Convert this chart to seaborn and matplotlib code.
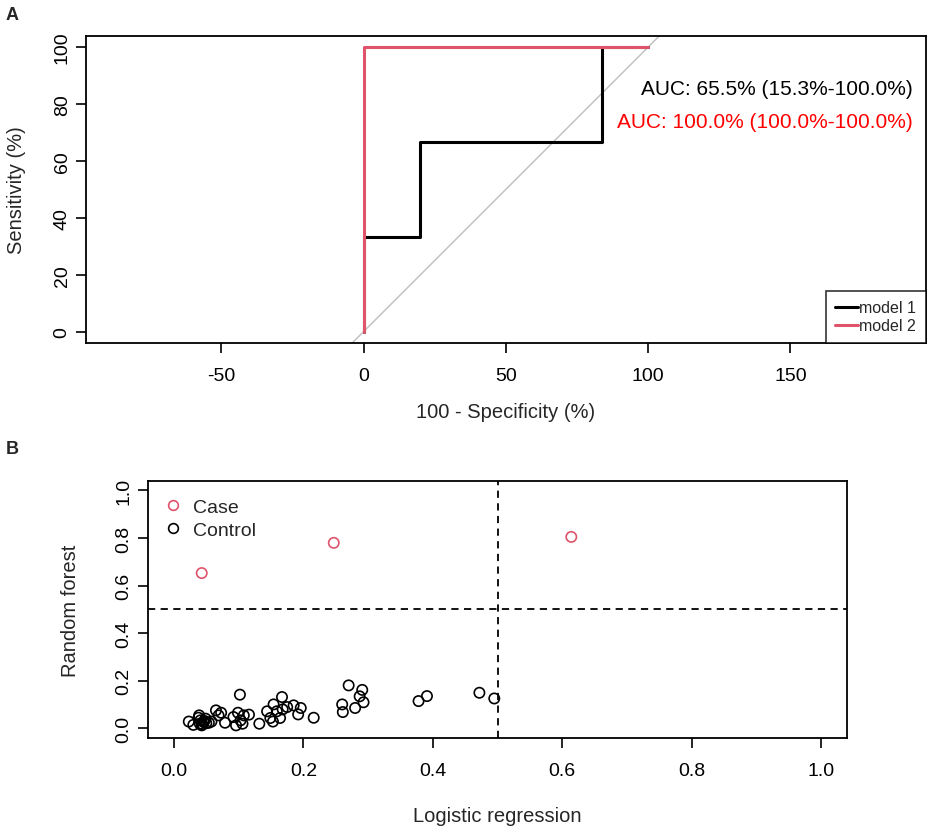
import numpy as np
import pandas as pd
import matplotlib
matplotlib.use("Agg")
import matplotlib.pyplot as plt
import seaborn as sns
from matplotlib.lines import Line2D
from matplotlib.ticker import FormatStrFormatter

# ---------------- data ----------------
# Panel A: ROC curves (x = 100 - specificity, y = sensitivity, in %)
model_names = ["model 1", "model 2"]
m1_fpr = [0, 0, 19.7, 19.7, 83.8, 83.8, 100]
m1_sens = [0, 33.3, 33.3, 66.7, 66.7, 100, 100]
m2_fpr = [0, 0, 100]
m2_sens = [0, 100, 100]
auc_texts = ["AUC: 65.5% (15.3%-100.0%)", "AUC: 100.0% (100.0%-100.0%)"]

# Panel B: predicted probabilities
case_lr = [0.043, 0.247, 0.614]
case_rf = [0.653, 0.780, 0.805]
control_lr = [0.023, 0.030, 0.039, 0.041, 0.043, 0.046, 0.049, 0.054, 0.058,
              0.040, 0.044, 0.047, 0.038, 0.050,
              0.065, 0.069, 0.073, 0.079, 0.092, 0.096, 0.099, 0.102, 0.103,
              0.106, 0.108, 0.116, 0.132, 0.144, 0.149, 0.153, 0.154, 0.159,
              0.164, 0.167, 0.168, 0.175, 0.185, 0.192, 0.196, 0.216, 0.260,
              0.261, 0.270, 0.280, 0.287, 0.291, 0.293, 0.378, 0.391, 0.472,
              0.495]
control_rf = [0.029, 0.015, 0.055, 0.034, 0.013, 0.027, 0.041, 0.024, 0.029,
              0.020, 0.018, 0.032, 0.045, 0.022,
              0.076, 0.055, 0.066, 0.024, 0.048, 0.013, 0.066, 0.142, 0.034,
              0.020, 0.055, 0.058, 0.020, 0.072, 0.044, 0.029, 0.101, 0.072,
              0.044, 0.132, 0.080, 0.090, 0.097, 0.059, 0.086, 0.045, 0.101,
              0.069, 0.181, 0.086, 0.135, 0.162, 0.110, 0.115, 0.136, 0.150,
              0.126]
group_names = ["Case", "Control"]

# ---------------- style ----------------
sns.set_style("ticks")
plt.rcParams["font.family"] = ["Liberation Sans", "DejaVu Sans"]
plt.rcParams["axes.unicode_minus"] = False

RED_LINE = "#DF536B"

fig = plt.figure(figsize=(9.35, 8.29), dpi=100)

# ---------------- Panel A ----------------
axA = fig.add_axes([0.092, 0.585, 0.898, 0.3707])
roc = pd.concat([
    pd.DataFrame({"fpr": m1_fpr, "sens": m1_sens, "model": model_names[0]}),
    pd.DataFrame({"fpr": m2_fpr, "sens": m2_sens, "model": model_names[1]}),
], ignore_index=True)
axA.axline((0, 0), (100, 100), color="#BEBEBE", lw=1, zorder=1)
sns.lineplot(data=roc, x="fpr", y="sens", hue="model", sort=False,
             estimator=None, palette={model_names[0]: "black", model_names[1]: RED_LINE},
             lw=2.2, ax=axA, legend=False, zorder=3)
axA.set_xlim(-97.5, 197.5)
axA.set_ylim(-4, 104)
axA.set_xticks([-50, 0, 50, 100, 150])
axA.set_yticks([0, 20, 40, 60, 80, 100])
axA.set_xlabel("100 - Specificity (%)", fontsize=14.5, labelpad=13)
axA.set_ylabel("Sensitivity (%)", fontsize=14.5, labelpad=20)
axA.text(193, 85.4, auc_texts[0], ha="right", va="center", fontsize=15, color="black")
axA.text(193, 73.9, auc_texts[1], ha="right", va="center", fontsize=15, color="#FF0000")
handlesA = [Line2D([], [], color="black", lw=2.2), Line2D([], [], color=RED_LINE, lw=2.2)]
legA = axA.legend(handlesA, model_names, loc="lower right", fontsize=11.5, frameon=True,
                  fancybox=False, edgecolor="black", borderaxespad=0, handlelength=1.4,
                  handletextpad=0.1, borderpad=0.6, labelspacing=0.2)
legA.get_frame().set_linewidth(1.2)

# ---------------- Panel B ----------------
axB = fig.add_axes([0.1583, 0.1086, 0.7476, 0.31])
pts = pd.concat([
    pd.DataFrame({"lr": case_lr, "rf": case_rf, "group": group_names[0]}),
    pd.DataFrame({"lr": control_lr, "rf": control_rf, "group": group_names[1]}),
], ignore_index=True)
axB.axhline(0.5, color="black", lw=1.3, ls=(0, (4, 3)), zorder=1)
axB.axvline(0.5, color="black", lw=1.3, ls=(0, (4, 3)), zorder=1)
sns.scatterplot(data=pts, x="lr", y="rf", hue="group",
                palette={group_names[0]: RED_LINE, group_names[1]: "black"},
                marker="o", s=55, linewidth=1.2, ax=axB, zorder=3,
                legend=False)
# make the seaborn markers hollow (R pch = 1)
for coll in axB.collections:
    fc = coll.get_facecolors()
    coll.set_edgecolors(fc)
    coll.set_facecolors("none")
axB.set_xlim(-0.04, 1.04)
axB.set_ylim(-0.04, 1.04)
ticksB = [0.0, 0.2, 0.4, 0.6, 0.8, 1.0]
axB.set_xticks(ticksB)
axB.set_yticks(ticksB)
axB.xaxis.set_major_formatter(FormatStrFormatter("%.1f"))
axB.yaxis.set_major_formatter(FormatStrFormatter("%.1f"))
axB.set_xlabel("Logistic regression", fontsize=14.5, labelpad=20)
axB.set_ylabel("Random forest", fontsize=14.5, labelpad=26)
handlesB = [Line2D([], [], ls="none", marker="o", mfc="none", mec=RED_LINE, ms=7, mew=1.2),
            Line2D([], [], ls="none", marker="o", mfc="none", mec="black", ms=7, mew=1.2)]
axB.legend(handlesB, group_names, loc="upper left", bbox_to_anchor=(0.0, 0.985),
           fontsize=14, frameon=False, handletextpad=0.4, labelspacing=0.25,
           borderaxespad=0.3, handlelength=1.2)

# ---------------- common axis styling ----------------
for ax in (axA, axB):
    for sp in ax.spines.values():
        sp.set_visible(True)
        sp.set_color("black")
        sp.set_linewidth(1.3)
    ax.tick_params(axis="both", direction="out", length=7, width=1.2,
                   labelsize=14, colors="black")
    ax.tick_params(axis="x", pad=10)
    ax.tick_params(axis="y", pad=4)
    plt.setp(ax.get_yticklabels(), rotation=90, va="center")
    ax.grid(False)

fig.text(12 / 935, 1 - 15 / 829, "A", fontsize=13, fontweight="bold", ha="center", va="center")
fig.text(12 / 935, 1 - 450 / 829, "B", fontsize=13, fontweight="bold", ha="center", va="center")

fig.savefig("out.png", dpi=100)
